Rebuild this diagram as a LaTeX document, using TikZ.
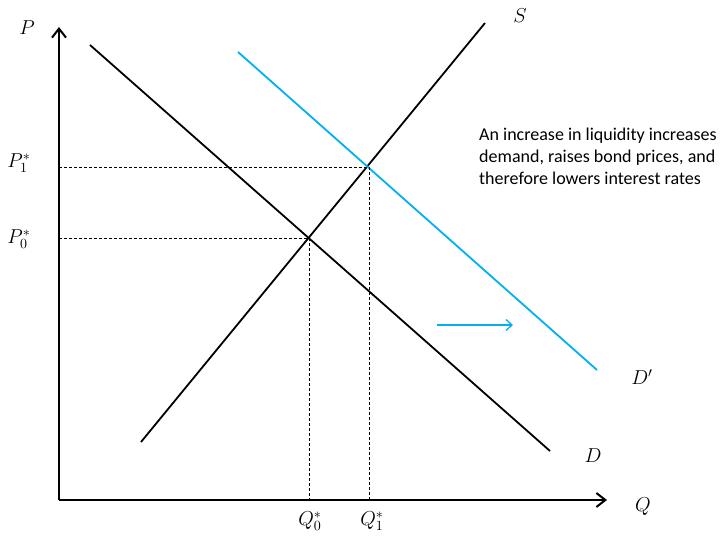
\documentclass[tikz,border=0pt]{standalone}
\usepackage{fontspec}
\usepackage{xcolor}
\usepackage{tikz}
\usetikzlibrary{arrows.meta,positioning,calc}
\newfontfamily\notefont{Carlito}
\definecolor{shiftblue}{RGB}{0,176,240}
\newcommand{\axlabel}[1]{\scalebox{1.4}{$#1$}}

\begin{document}
\begin{tikzpicture}[x=1pt, y=-1pt, axis/.style={line width=2.2pt, -{Straight Barb[length=9pt, width=14pt, line width=2pt]}}, curve/.style={line width=1.8pt}, guide/.style={line width=0.7pt, dash pattern=on 3pt off 2pt}, lbl/.style={font=\fontsize{14.4}{17}\selectfont, inner sep=0pt}]
\useasboundingbox (0,0) rectangle (722,537);
% axes
\coordinate (o) at (59,500);
\coordinate (ytop) at (59,27);
\coordinate (xend) at (607,500);
\draw[axis] (o) -- (ytop);
\draw[axis] (o) -- (xend);
\node[lbl] (p) at (27,28) {\axlabel{P}};
\node[lbl] (q) at (643,507) {\axlabel{Q}};
% supply and demand curves
\coordinate (s0) at (141,442);
\coordinate (s1) at (485,23);
\coordinate (d0) at (90,45);
\coordinate (d1) at (550,451);
\coordinate (dd0) at (238,52);
\coordinate (dd1) at (597,370);
\draw[curve] (s0) -- (s1);
\draw[curve] (d0) -- (d1);
\draw[curve, shiftblue] (dd0) -- (dd1);
\node[lbl] (s) at (520,16) {\axlabel{S}};
\node[lbl] (d) at (593,456) {\axlabel{D}};
\node[lbl] (dd) at (642,377) {\axlabel{D'}};
% equilibria
\coordinate (e0) at (309,238);
\coordinate (e1) at (369,167);
\draw[guide] (e0 -| o) -- (e0) -- (e0 |- o);
\draw[guide] (e1 -| o) -- (e1) -- (e1 |- o);
\node[lbl] (p0) at (19,239) {\axlabel{P_0^*}};
\node[lbl] (p1) at (19,163) {\axlabel{P_1^*}};
\node[lbl] (q0) at (310,521) {\axlabel{Q_0^*}};
\node[lbl] (q1) at (372,521) {\axlabel{Q_1^*}};
% shift
\coordinate (a0) at (437,325);
\coordinate (a1) at (513,325);
\draw[shiftblue, line width=1.5pt, -{Straight Barb[length=6pt, width=11pt, line width=1.3pt]}] (a0) -- (a1);
\node[font=\notefont\fontsize{18}{22}\selectfont, align=left, anchor=north west, inner sep=0pt] (note) at (479,128) {An increase in liquidity increases\\demand, raises bond prices, and\\therefore lowers interest rates};
\end{tikzpicture}
\end{document}
